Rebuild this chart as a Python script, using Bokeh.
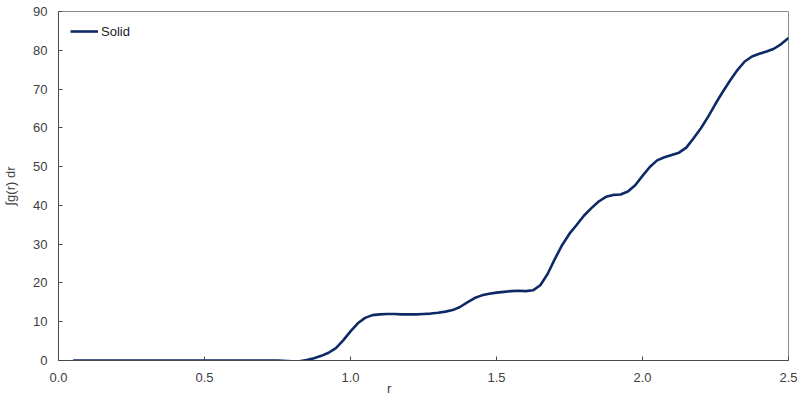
from bokeh.plotting import figure
from bokeh.models import Range1d, FixedTicker, Legend, LegendItem, ColumnDataSource
from bokeh.embed import file_html
from bokeh.resources import INLINE

r_vals = [0.05, 0.1, 0.15, 0.2, 0.25, 0.3, 0.35, 0.4, 0.45, 0.5, 0.55, 0.6, 0.65, 0.7, 0.75,
          0.8, 0.825, 0.85, 0.875, 0.9, 0.925, 0.95, 0.975, 1.0, 1.025, 1.05, 1.075, 1.1,
          1.125, 1.15, 1.175, 1.2, 1.225, 1.25, 1.275, 1.3, 1.325, 1.35, 1.375, 1.4, 1.425,
          1.45, 1.475, 1.5, 1.525, 1.55, 1.575, 1.6, 1.625, 1.65, 1.675, 1.7, 1.725, 1.75,
          1.775, 1.8, 1.825, 1.85, 1.875, 1.9, 1.925, 1.95, 1.975, 2.0, 2.025, 2.05, 2.075,
          2.1, 2.125, 2.15, 2.175, 2.2, 2.225, 2.25, 2.275, 2.3, 2.325, 2.35, 2.375, 2.4,
          2.425, 2.45, 2.475, 2.5]
solid_vals = [0, 0, 0, 0, 0, 0, 0, 0, 0, 0, 0, 0, 0, 0, 0,
              -0.2, -0.2, 0.1, 0.6, 1.2, 2.0, 3.2, 5.2, 7.5, 9.6, 11.0, 11.7, 11.9,
              12.0, 12.0, 11.9, 11.9, 11.9, 12.0, 12.1, 12.3, 12.6, 13.0, 13.8, 15.0, 16.1,
              16.8, 17.2, 17.5, 17.7, 17.9, 18.0, 17.9, 18.1, 19.4, 22.3, 26.2, 29.8, 32.7,
              35.0, 37.4, 39.3, 41.0, 42.2, 42.7, 42.8, 43.6, 45.2, 47.6, 49.9, 51.6, 52.4,
              53.0, 53.6, 54.9, 57.3, 59.9, 62.9, 66.2, 69.3, 72.2, 74.9, 77.1, 78.4, 79.1,
              79.7, 80.4, 81.6, 83.2]
x_ticks = [0.0, 0.5, 1.0, 1.5, 2.0, 2.5]
y_ticks = [0, 10, 20, 30, 40, 50, 60, 70, 80, 90]
series_name = "Solid"
x_title = "r"
y_title = "\u222bg(r) dr"

FONT = "Liberation Sans"
TXT = "#404040"

p = figure(width=800, height=398, output_backend="svg", toolbar_location=None,
           x_range=Range1d(0, 2.5), y_range=Range1d(0, 90),
           min_border_left=57, min_border_right=12, min_border_top=11, min_border_bottom=38)
p.grid.visible = False
p.outline_line_color = "#8c8c8c"
p.outline_line_width = 1
p.background_fill_color = "white"
p.border_fill_color = "white"

src = ColumnDataSource(dict(r=r_vals, v=solid_vals))
line = p.line("r", "v", source=src, line_color="#0e2a66", line_width=2.6)

for ax in (p.xaxis[0], p.yaxis[0]):
    ax.axis_line_color = "#4a4a4a"
    ax.major_tick_line_color = "#4a4a4a"
    ax.major_tick_in = 4
    ax.major_tick_out = 0
    ax.minor_tick_line_color = None
    ax.major_label_text_font = FONT
    ax.major_label_text_font_size = "13px"
    ax.major_label_text_color = TXT
    ax.axis_label_text_font = FONT
    ax.axis_label_text_font_size = "13px"
    ax.axis_label_text_font_style = "normal"
    ax.axis_label_text_color = TXT

p.xaxis.ticker = FixedTicker(ticks=x_ticks)
p.yaxis.ticker = FixedTicker(ticks=y_ticks)
p.xaxis.major_label_overrides = {t: f"{t:.1f}" for t in x_ticks}
# trailing no-break spaces shift the centred title a little left, as in the reference
p.xaxis.axis_label = x_title + "\u00a0" * 19
p.yaxis.axis_label = y_title
p.xaxis.major_label_standoff = 12
p.xaxis.axis_label_standoff = -4
p.yaxis.major_label_standoff = 11
p.yaxis.axis_label_standoff = 12

legend = Legend(items=[LegendItem(label=series_name, renderers=[line])],
                location="top_left", margin=0, padding=12, spacing=0,
                glyph_width=28, glyph_height=16, label_standoff=3,
                label_text_font=FONT, label_text_font_size="13px", label_text_color="#222222",
                border_line_alpha=0, background_fill_alpha=0, label_height=16)
p.add_layout(legend)

open("out.html", "w").write(file_html(p, INLINE))
